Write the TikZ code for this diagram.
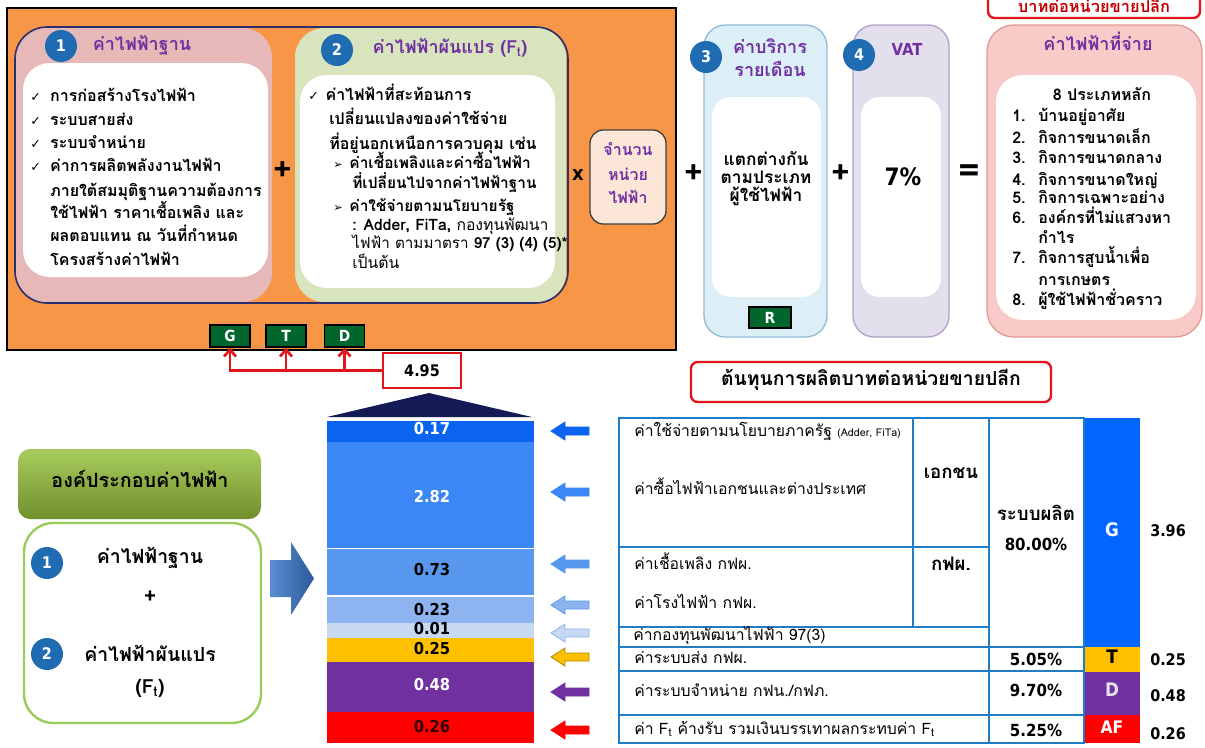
\documentclass[tikz,border=0pt]{standalone}
\usepackage{fontspec}
\setmainfont[Script=Thai]{Loma}
\newfontfamily\dejavu{DejaVu Sans}
\newfontfamily\numf[FakeStretch=0.9]{DejaVu Sans}
\usetikzlibrary{arrows.meta}
\definecolor{orangeF}{HTML}{F79646}
\definecolor{pinkA}{HTML}{E6B9B8}
\definecolor{greenA}{HTML}{D7E4BD}
\definecolor{navyF}{HTML}{2B2F6E}
\definecolor{circB}{HTML}{1F6CB3}
\definecolor{purpT}{HTML}{7030A0}
\definecolor{dgreen}{HTML}{00662E}
\definecolor{lblue}{HTML}{DCEEF6}
\definecolor{lblueB}{HTML}{93BBD6}
\definecolor{lav}{HTML}{E4DFEC}
\definecolor{lavB}{HTML}{B1A0C7}
\definecolor{salm}{HTML}{F8CBC8}
\definecolor{salmB}{HTML}{E39A94}
\definecolor{peach}{HTML}{FCE6D8}
\definecolor{redL}{HTML}{E0161C}
\definecolor{darkred}{HTML}{C00000}
\definecolor{tblB}{HTML}{1F7DC8}
\definecolor{triN}{HTML}{141A55}
\definecolor{bA}{HTML}{0A64F0}
\definecolor{bB}{HTML}{3A87F5}
\definecolor{bC}{HTML}{5797EE}
\definecolor{bD}{HTML}{8DB4F0}
\definecolor{bE}{HTML}{C6D9F1}
\definecolor{yel}{HTML}{FFC000}
\definecolor{pur}{HTML}{7030A0}
\definecolor{rd}{HTML}{FF0000}
\definecolor{gblue}{HTML}{0066FF}
\definecolor{hdrTop}{HTML}{A8CC5C}
\definecolor{hdrBot}{HTML}{708F2C}
\definecolor{boxG}{HTML}{9BCB5B}
\definecolor{arL}{HTML}{5A8ED0}
\definecolor{arR}{HTML}{2C5A9C}
\newcommand{\myfs}[1]{\fontsize{#1}{#1}\selectfont}
\newcommand{\chk}{{\dejavu\mdseries\myfs{9.5}✓}}
\newcommand{\tri}{{\dejavu\mdseries\myfs{8.5}➢}}
\newcommand{\larrow}[4]{%
  \filldraw[fill=#3, draw=#4, line width=0.6pt] (#1-19,#2) -- (#1-5,#2-9) -- (#1-5,#2-4) -- (#1+19,#2-4) -- (#1+19,#2+4) -- (#1-5,#2+4) -- (#1-5,#2+9) -- cycle;}
\begin{document}
\begin{tikzpicture}[x=0.75pt,y=-0.75pt,
  tc/.style={inner sep=0pt, text height=1.5ex, text depth=.5ex},
  num/.style={circle, fill=circB, text=white, font=\numf\bfseries\myfs{12}, minimum size=24pt, inner sep=0pt},
  ttl/.style={tc, text=purpT, font=\bfseries\myfs{13.5}},
  bl/.style={tc, anchor=west, font=\bfseries\myfs{12}},
  bln/.style={tc, anchor=west, font=\myfs{11.8}},
  ltr/.style={draw=black, line width=1.2pt, fill=dgreen, text=white, font=\numf\bfseries\myfs{11.5}, minimum width=30pt, minimum height=16.5pt, inner sep=0pt},
  bart/.style={tc, font=\numf\bfseries\myfs{12.3}},
  tbt/.style={tc, anchor=west, font=\myfs{11.8}},
  tbb/.style={tc, font=\bfseries\myfs{14}},
  tbn/.style={tc, font=\numf\bfseries\myfs{12.5}},
  op/.style={tc, font=\bfseries\myfs{24}},
  redbox/.style={draw=redL, line width=1.8pt, fill=white, rounded corners=5pt, inner sep=0pt},
  conn/.style={draw=redL, line width=2pt, -{Straight Barb[length=5pt,width=9pt,line width=2pt]}}
]
\useasboundingbox (0,0) rectangle (1205,747);
\fill[white] (0,0) rectangle (1205,747);

% ===== top orange panel =====
\draw[black, line width=1.5pt, fill=orangeF] (7,8) rectangle (676,350);
\fill[pinkA, rounded corners=22pt] (15,28) rectangle (272,302);
\fill[greenA, rounded corners=22pt] (295,28) rectangle (566,302);
\draw[navyF, line width=1.2pt, rounded corners=24pt] (15,27) rectangle (568,303);
\fill[white, rounded corners=20pt] (23,63) rectangle (268,277);
\fill[white, rounded corners=20pt] (300,75) rectangle (555,288);

\node[num] (c1) at (61,46) {1};
\node[ttl] (h1) at (142,47) {ค่าไฟฟ้าฐาน};
\node[num] (c2) at (337,50) {2};
\node[ttl] (h2) at (450,50) {ค่าไฟฟ้าผันแปร (F\textsubscript{t})};

\node[bl] (a1) at (30,98) {\chk\hspace{7pt}การก่อสร้างโรงไฟฟ้า};
\node[bl] (a2) at (30,122) {\chk\hspace{7pt}ระบบสายส่ง};
\node[bl] (a3) at (30,145) {\chk\hspace{7pt}ระบบจำหน่าย};
\node[bl] (a4) at (30,168) {\chk\hspace{7pt}ค่าการผลิตพลังงานไฟฟ้า};
\node[bl] (a5) at (50,193) {ภายใต้สมมุติฐานความต้องการ};
\node[bl] (a6) at (50,215) {ใช้ไฟฟ้า ราคาเชื้อเพลิง และ};
\node[bl] (a7) at (50,238) {ผลตอบแทน ณ วันที่กำหนด};
\node[bl] (a8) at (50,262) {โครงสร้างค่าไฟฟ้า};

\node[bl] (b1) at (308,97) {\chk\hspace{5pt}ค่าไฟฟ้าที่สะท้อนการ};
\node[bl] (b2) at (329,121) {เปลี่ยนแปลงของค่าใช้จ่าย};
\node[bl] (b3) at (329,146) {ที่อยู่นอกเหนือการควบคุม เช่น};
\node[bl, font=\bfseries\myfs{11.6}] (b4) at (333,165) {\tri\hspace{5pt}ค่าเชื้อเพลิงและค่าซื้อไฟฟ้า};
\node[bl, font=\bfseries\myfs{11.6}] (b5) at (352,185) {ที่เปลี่ยนไปจากค่าไฟฟ้าฐาน};
\node[bl, font=\bfseries\myfs{11.6}] (b6) at (333,208) {\tri\hspace{5pt}ค่าใช้จ่ายตามนโยบายรัฐ};
\node[bln] (b7) at (352,227) {\textbf{: Adder, FiTa,} กองทุนพัฒนา};
\node[bln, font=\myfs{11.4}] (b8) at (352,245) {ไฟฟ้า ตามมาตรา \textbf{97 (3) (4) (5)*}};
\node[bln] (b9) at (352,265) {เป็นต้น};

\node[op] (p1) at (283,177) {+};
\node[op, font=\numf\bfseries\myfs{15}] (x1) at (578,177) {x};

\draw[black!75, line width=1pt, fill=peach, rounded corners=10pt] (590,130) rectangle (666,224);
\node[tc, text=purpT, font=\bfseries\myfs{12}] (u1) at (628,152) {จำนวน};
\node[tc, text=purpT, font=\bfseries\myfs{12}] (u2) at (628,177) {หน่วย};
\node[tc, text=purpT, font=\bfseries\myfs{12}] (u3) at (628,200) {ไฟฟ้า};

\node[ltr] (G) at (230,336) {G};
\node[ltr] (T) at (286,336) {T};
\node[ltr] (D) at (344.5,336) {D};

\node[draw=redL, line width=1.8pt, fill=white, minimum width=58.5pt, minimum height=26pt, inner sep=0pt, font=\numf\bfseries\myfs{12}] (n495) at (422,370.5) {4.95};
\draw[conn] (n495.west) -| (G.south);
\draw[conn] (n495.west) -| (T.south);
\draw[conn] (n495.west) -| (D.south);

% ===== service charge / VAT / total =====
\node[op] (p2) at (694,180) {+};
\draw[lblueB, line width=1pt, fill=lblue, rounded corners=16pt] (704,25) rectangle (827,337);
\fill[white, rounded corners=14pt] (712,97) rectangle (821,297);
\node[num] (c3) at (706,57) {3};
\node[ttl] (h3a) at (770,50) {ค่าบริการ};
\node[ttl] (h3b) at (770,73) {รายเดือน};
\node[tc, font=\bfseries\myfs{13}] (s1) at (766,162) {แตกต่างกัน};
\node[tc, font=\bfseries\myfs{13}] (s2) at (766,180) {ตามประเภท};
\node[tc, font=\bfseries\myfs{13}] (s3) at (766,198) {ผู้ใช้ไฟฟ้า};
\node[ltr, minimum width=31.5pt, minimum height=15.5pt] (R) at (770,317.5) {R};

\node[op] (p3) at (841,180) {+};
\draw[lavB, line width=1pt, fill=lav, rounded corners=16pt] (853,25) rectangle (949,337);
\fill[white, rounded corners=14pt] (861,97) rectangle (941,297);
\node[num] (c4) at (859,55) {4};
\node[tc, text=purpT, font=\numf\bfseries\myfs{12.4}] (h4) at (907,52) {VAT};
\node[tc, font=\numf\bfseries\myfs{18}] (vat) at (903,182) {7\%};

\node[op, font=\bfseries\myfs{28}] (eq) at (969,180) {=};
\draw[salmB, line width=1pt, fill=salm, rounded corners=20pt] (987,25) rectangle (1202,337);
\fill[white, rounded corners=20pt] (996,75) rectangle (1196,320);
\node[ttl] (h5) at (1098,47) {ค่าไฟฟ้าที่จ่าย};
\node[tc, font=\bfseries\myfs{12}] (k0) at (1102,97) {8 ประเภทหลัก};
\foreach \n/\yy/\txt in {1/118/บ้านอยู่อาศัย, 2/140/กิจการขนาดเล็ก, 3/160/กิจการขนาดกลาง, 4/182/กิจการขนาดใหญ่, 5/200/กิจการเฉพาะอย่าง, 6/220/องค์กรที่ไม่แสวงหา, 7/260/กิจการสูบน้ำเพื่อ, 8/302/ผู้ใช้ไฟฟ้าชั่วคราว}{
  \node[bl] (kn\n) at (1012,\yy) {\n.};
  \node[bl] (kt\n) at (1038,\yy) {\txt};
}
\node[bl] (k6b) at (1038,240) {กำไร};
\node[bl] (k7b) at (1038,282) {การเกษตร};

\draw[redL, line width=1.8pt, fill=white, rounded corners=5pt] (988,-12) rectangle (1200,18);
\node[tc, text=darkred, font=\bfseries\myfs{12.3}] (topl) at (1094,9) {บาทต่อหน่วยขายปลีก};

% ===== bottom left =====
\shade[top color=hdrTop, bottom color=hdrBot, rounded corners=9pt] (18,449) rectangle (261,519);
\node[tc, font=\bfseries\myfs{14.8}] (hdr) at (140,484) {องค์ประกอบค่าไฟฟ้า};
\draw[boxG, line width=1.8pt, rounded corners=22pt] (24,523) rectangle (261,723);
\node[num] (d1) at (47,563) {1};
\node[tc, font=\bfseries\myfs{14.6}] (e1) at (150,560) {ค่าไฟฟ้าฐาน};
\node[tc, font=\bfseries\myfs{16}] (e2) at (150,600) {+};
\node[num] (d2) at (47,654) {2};
\node[tc, font=\bfseries\myfs{14.6}] (e3) at (150,658) {ค่าไฟฟ้าผันแปร};
\node[tc, font=\bfseries\myfs{14.6}] (e4) at (150,690) {(F\textsubscript{t})};

\shade[left color=arL, right color=arR] (270,560) -- (291,560) -- (291,542) -- (314,578.5) -- (291,615) -- (291,597) -- (270,597) -- cycle;

% ===== bar =====
\fill[triN] (327,417) -- (429,393) -- (532,417) -- cycle;
\fill[bA] (327,421) rectangle (534,442);
\fill[bB] (327,442) rectangle (534,548);
\fill[bC] (327,549) rectangle (534,595);
\fill[bD] (327,597) rectangle (534,623);
\fill[bE] (327,623) rectangle (534,638);
\fill[yel] (327,638) rectangle (534,662);
\fill[pur] (327,662) rectangle (534,712);
\fill[rd] (327,712) rectangle (534,743);
\node[bart, text=white] (v1) at (432,431) {0.17};
\node[bart, text=white] (v2) at (432,499) {2.82};
\node[bart] (v3) at (432,572) {0.73};
\node[bart] (v4) at (432,612) {0.23};
\node[bart] (v5) at (432,631) {0.01};
\node[bart] (v6) at (432,651) {0.25};
\node[bart, text=white] (v7) at (432,687) {0.48};
\node[bart, text=black!80!red] (v8) at (432,729) {0.26};

\larrow{570}{431}{bA}{bA}
\larrow{570}{492}{bB}{bB}
\larrow{570}{564}{bC}{bC}
\larrow{570}{605}{bD}{bC}
\larrow{570}{633}{bE}{bD}
\larrow{570}{657}{yel}{yel!70!black}
\larrow{570}{692}{pur}{pur}
\larrow{570}{730}{rd}{rd}

% ===== table =====
\node[redbox, minimum width=270pt, minimum height=30pt, font=\bfseries\myfs{14.5}, text height=1.5ex, text depth=.5ex] (botl) at (871,382) {ต้นทุนการผลิตบาทต่อหน่วยขายปลีก};
\fill[gblue] (1084,418) rectangle (1140,647);
\fill[yel] (1084,647) rectangle (1140,672);
\fill[pur] (1084,672) rectangle (1140,715);
\fill[rd] (1084,715) rectangle (1140,743);
\begin{scope}[tblB, line width=1.6pt]
\draw (619,418) rectangle (1084,743);
\draw (913,418) -- (913,627);
\draw (989,418) -- (989,743);
\draw (619,547) -- (989,547);
\draw (619,627) -- (989,627);
\draw (619,647) -- (1084,647);
\draw (619,671) -- (1084,671);
\draw (619,715) -- (1084,715);
\end{scope}
\node[tbt] (r1) at (634,433) {ค่าใช้จ่ายตามนโยบายภาครัฐ {\myfs{8}(Adder, FiTa)}};
\node[tbt] (r2) at (634,491) {ค่าซื้อไฟฟ้าเอกชนและต่างประเทศ};
\node[tbb] (r3) at (951,475) {เอกชน};
\node[tbt] (r4) at (634,566) {ค่าเชื้อเพลิง กฟผ.};
\node[tbt] (r5) at (634,605) {ค่าโรงไฟฟ้า กฟผ.};
\node[tbb] (r6) at (951,567) {กฟผ.};
\node[tbt] (r7) at (633,637) {ค่ากองทุนพัฒนาไฟฟ้า 97(3)};
\node[tbt] (r8) at (634,660) {ค่าระบบส่ง กฟผ.};
\node[tbt] (r9) at (634,693) {ค่าระบบจำหน่าย กฟน./กฟภ.};
\node[tbt] (r10) at (634,731) {ค่า F\textsubscript{t} ค้างรับ รวมเงินบรรเทาผลกระทบค่า F\textsubscript{t}};
\node[tbb] (q1) at (1036,517) {ระบบผลิต};
\node[tbn] (q2) at (1036,547) {80.00\%};
\node[tbn] (q3) at (1036,662) {5.05\%};
\node[tbn] (q4) at (1036,693) {9.70\%};
\node[tbn] (q5) at (1036,733) {5.25\%};
\node[tbn, text=white, font=\numf\bfseries\myfs{14}] (gG) at (1112,533) {G};
\node[tbn, font=\numf\bfseries\myfs{14}] (gT) at (1112,660) {T};
\node[tbn, text=lav, font=\numf\bfseries\myfs{14}] (gD) at (1112,693) {D};
\node[tbn, text=white, font=\numf\bfseries\myfs{13}] (gA) at (1112,730) {AF};
\node[tbn, font=\numf\bfseries\myfs{12}] (w1) at (1168,533) {3.96};
\node[tbn, font=\numf\bfseries\myfs{12}] (w2) at (1168,662) {0.25};
\node[tbn, font=\numf\bfseries\myfs{12}] (w3) at (1168,698) {0.48};
\node[tbn, font=\numf\bfseries\myfs{12}] (w4) at (1168,736) {0.26};
\end{tikzpicture}
\end{document}
